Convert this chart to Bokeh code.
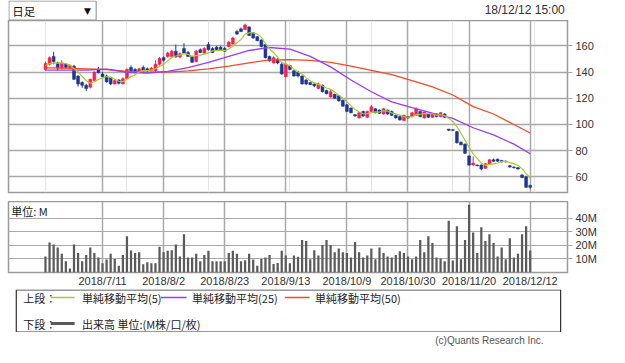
import pandas as pd
from bokeh.plotting import figure
from bokeh.layouts import column
from bokeh.models import Range1d, FixedTicker, Grid, Label, ColumnDataSource
from bokeh.core.properties import value
from bokeh.embed import file_html
from bokeh.resources import INLINE

# ---------------- data ----------------
holidays = ["2018-07-16", "2018-09-17", "2018-09-24", "2018-10-08", "2018-11-23"]
trade_dates = pd.bdate_range("2018-06-21", "2018-12-12", freq="C", holidays=holidays)
date_labels = [f"{d.year}/{d.month}/{d.day}" for d in trade_dates]

tick_labels = ["2018/7/11", "2018/8/2", "2018/8/23", "2018/9/13",
               "2018/10/9", "2018/10/30", "2018/11/20", "2018/12/12"]

opens = [142, 146, 152, 147, 143, 146, 143, 144.5, 137, 132,
         130, 128.5, 133.5, 142, 138.5, 137, 136, 131, 134, 131,
         135, 143.5, 142, 140, 143.5, 142.5, 141, 141, 146, 151,
         152, 152, 156, 151.5, 158, 155, 152, 148, 157, 154.5,
         161, 158, 159, 159, 158, 159.5, 161.5, 171, 173, 172.5,
         174.5, 170, 167, 164.5, 161, 152, 147, 150, 146, 136.5,
         145, 141, 140, 137, 134, 132, 131, 127.5, 130, 126,
         121, 123, 122, 118.5, 115, 112.5, 107.5, 105, 110, 105.5,
         110, 112, 111, 108, 111, 110, 107, 106, 103, 106,
         106, 107, 110, 105, 108, 105.5, 108, 106, 108, 96.5,
         96, 94.5, 86.5, 85, 76, 69, 69, 69, 66.5, 70,
         73, 73.5, 72.5, 72, 68.5, 67.5, 67, 61.5, 60, 53.5]
closes = [146.5, 151, 148, 143, 147, 143.5, 145, 134.5, 131, 130,
          127.5, 134.5, 140, 139.5, 136.5, 132.5, 131, 133.5, 131.5, 135,
          142, 141, 140, 142.5, 141, 141, 143, 146, 150.5, 149,
          154.5, 156, 151.5, 154, 154.5, 152, 147.5, 156, 155, 158,
          157, 155, 157, 157, 156, 163, 166, 169, 171, 176,
          168, 166, 164, 159.5, 151, 148.5, 151, 147, 138.5, 146,
          142, 137, 137, 131, 131, 130.5, 129.5, 131, 125, 123.5,
          125, 120, 118, 114, 110, 109, 106.5, 109, 106.5, 110,
          113.5, 109, 108.5, 112, 108, 107, 105, 103.5, 107, 105,
          109, 112, 106, 109.5, 105.5, 108, 106, 109, 105.5, 95.5,
          95.5, 86, 84.5, 78, 69, 70.5, 68.5, 66, 70, 73,
          72, 72, 71.5, 71.5, 67.5, 67, 66, 59.5, 52, 52]
highs = [148, 152, 155.5, 148, 149, 147, 146, 145.5, 137.5, 133,
         131, 135, 140.5, 144, 140, 138, 136.5, 134, 134.5, 136,
         143, 145, 143, 143, 145, 143.5, 144, 149, 151.5, 152,
         155.5, 157, 161, 155, 162, 156, 152.5, 157, 158, 159,
         163, 159, 160, 160, 159, 163.5, 167, 172, 174, 177,
         175, 170.5, 167.5, 165, 161.5, 152.5, 152, 150.5, 147.5, 146.5,
         145.5, 141.5, 141, 137.5, 134.5, 132.5, 131.5, 132, 130.5, 126.5,
         126.5, 123.5, 122.5, 119, 115.5, 113, 108, 109.5, 110.5, 110.5,
         115, 112.5, 111.5, 112.5, 111.5, 110.5, 107.5, 106.5, 107.5, 106.5,
         109.5, 113, 110.5, 110, 108.5, 108.5, 108.5, 109.5, 108.5, 96.5,
         96.5, 95, 87, 85.5, 76.5, 75.5, 69.5, 69.5, 70.5, 73.5,
         74, 74, 73, 72.5, 69, 68, 67.5, 62, 60.5, 54]
lows = [141, 145, 146, 141, 142, 142.5, 142, 134, 129, 128,
        125.5, 127.5, 133, 139, 136, 132, 130, 130.5, 130.5, 130.5,
        134.5, 140.5, 139, 139.5, 140.5, 140, 140.5, 140.5, 145, 148,
        151, 151.5, 151, 150.5, 154, 151.5, 147, 147.5, 154.5, 154,
        156.5, 154.5, 156.5, 156.5, 155.5, 159, 161, 168.5, 170.5, 172,
        167.5, 165.5, 163.5, 159, 150.5, 148, 146.5, 146, 138, 136,
        141.5, 136.5, 136, 130.5, 130, 130, 128.5, 127, 124.5, 123,
        120.5, 119.5, 117.5, 113.5, 109.5, 108.5, 106, 104.5, 106, 105,
        109.5, 108.5, 108, 107.5, 107.5, 106.5, 104.5, 103, 102.5, 104.5,
        105.5, 106.5, 105.5, 104.5, 105, 105, 105.5, 105.5, 105, 95,
        95, 85.5, 84, 77.5, 68.5, 68.5, 68, 65, 66, 69.5,
        71.5, 71.5, 71, 71, 67, 66.5, 65.5, 59, 51.5, 51]
prior_closes = [143.5, 145, 144, 146]

volume_m = [11.7, 22, 20.5, 18.3, 13.7, 8.3, 2.9, 20.5, 14.4, 8.3,
            12.9, 18.3, 14.4, 11, 6.8, 9.5, 13.7, 10, 4.9, 12.9,
            26.6, 16.1, 14.4, 14.9, 6.1, 7.6, 6.8, 6.8, 19, 14.9,
            15.9, 16.3, 20.5, 11.7, 28, 11, 11, 13.7, 8.3, 12.9,
            15.9, 8.3, 8.3, 8.3, 8.3, 14.4, 15.9, 13.7, 8.3, 9,
            13.7, 9.5, 4.9, 10, 11, 12.9, 6.3, 7, 15.9, 12.4,
            6.8, 12.4, 11.5, 23.9, 23.2, 9.8, 16.3, 12.4, 20.2, 23.9,
            20.2, 14.9, 17.6, 14.9, 14.4, 11, 22.4, 14.9, 11, 12.4,
            17.6, 9.8, 18.3, 14.4, 11.7, 11, 12.9, 15.6, 14.4, 11.7,
            9.8, 11.7, 23.9, 14.9, 26.6, 21.7, 11, 10.2, 8.3, 38,
            8.8, 34, 9.8, 23.9, 49.8, 29.3, 14.4, 33.2, 23.2, 28,
            21.7, 11.7, 18.3, 9.8, 25.1, 11, 13.7, 28, 34, 16.1]

ma_idx = [0, 5, 10, 15, 20, 25, 30, 35, 40, 45, 50, 55, 60,
          65, 70, 75, 80, 85, 90, 95, 100, 105, 110, 115, 119]
ma25 = [141.5, 141.5, 141.5, 142.3, 139.8, 139.3, 140.5, 143.5, 147.5, 152, 156.5, 158.8, 157.5,
        152, 144, 134, 125, 117.3, 112.8, 108.6, 104.6, 97.5, 92, 85, 77.6]
ma50 = [143.3, 143, 142.5, 142, 140.5, 140, 140, 141, 142.5, 144.5, 147, 149.3, 149.6,
        149, 147.5, 144.5, 141.3, 138, 133.5, 128.7, 122.5, 113.6, 108, 100, 93.5]

# ---------------- derived ----------------
n = len(closes)
xs = list(range(n))
tick_idx = [date_labels.index(t) for t in tick_labels]
ext = prior_closes + closes
ma5 = [sum(ext[i:i + 5]) / 5 for i in range(n)]

UP = "#f8204c"
DOWN = "#1c3690"
C5 = "#a8cc28"
C25 = "#9a3cf6"
C50 = "#f84a26"
GRID = "#a9a9a9"
JP = value("Noto Sans CJK JP")
EN = value("Liberation Sans")

src = ColumnDataSource(dict(
    x=xs, high=highs, low=lows,
    top=[max(o, c) for o, c in zip(opens, closes)],
    bottom=[min(o, c) for o, c in zip(opens, closes)],
    color=[UP if c > o else DOWN for o, c in zip(opens, closes)],
    vol=volume_m,
))

W = 609
XR = (-9.08, 128.16)


def blank(h):
    f = figure(width=W, height=h, x_range=Range1d(0, W), y_range=Range1d(h, 0),
               output_backend="svg", toolbar_location=None,
               x_axis_location=None, y_axis_location=None,
               min_border=0, outline_line_color=None)
    f.xgrid.visible = False
    f.ygrid.visible = False
    return f


# ---------------- header ----------------
HH = 20
hdr = blank(HH)
hdr.quad(left=[0.5], right=[95.5], top=[0.5], bottom=[HH - 0.5],
         fill_color="white", line_color="#8a8a8a", line_width=1)
hdr.text(x=[4], y=[HH / 2], text=["日足"], text_font=JP, text_font_size="11.5px",
         text_baseline="middle", text_color="#111")
hdr.text(x=[86], y=[HH / 2], text=["▼"], text_font=value("DejaVu Sans"), text_font_size="9px",
         text_baseline="middle", text_align="center", text_color="#111")
hdr.text(x=[606], y=[HH / 2 - 1], text=["18/12/12 15:00"], text_font=EN, text_font_size="12px",
         text_baseline="middle", text_align="right", text_color="#333")

# ---------------- price panel ----------------
p = figure(width=W, height=181, x_range=Range1d(*XR), y_range=Range1d(48.06, 179.4),
           output_backend="svg", toolbar_location=None,
           x_axis_location=None, y_axis_location="right",
           min_border_left=8, min_border_right=42, min_border_top=0, min_border_bottom=9)
p.outline_line_color = "#9a9a9a"
p.outline_line_width = 1.5
p.yaxis.ticker = FixedTicker(ticks=[60, 80, 100, 120, 140, 160])
p.yaxis.axis_line_color = None
p.yaxis.major_tick_in = 0
p.yaxis.major_tick_out = 5
p.yaxis.major_tick_line_color = GRID
p.yaxis.minor_tick_line_color = None
p.yaxis.major_label_standoff = 3
p.yaxis.major_label_text_font = "Liberation Sans"
p.yaxis.major_label_text_font_size = "11px"
p.yaxis.major_label_text_color = "#333"
p.ygrid.grid_line_color = GRID
p.ygrid.grid_line_width = 1.5
p.add_layout(Grid(dimension=0, ticker=FixedTicker(ticks=tick_idx),
                  grid_line_color=GRID, grid_line_width=1.5))

p.segment(x0="x", y0="high", x1="x", y1="low", color="color", line_width=1, source=src)
p.vbar(x="x", width=0.72, top="top", bottom="bottom", fill_color="color",
       line_color="color", line_width=0.5, source=src)
p.line(ma_idx, ma50, line_color=C50, line_width=1.3)
p.line(ma_idx, ma25, line_color=C25, line_width=1.3)
p.line(xs, ma5, line_color=C5, line_width=1.2)

# ---------------- volume panel ----------------
v = figure(width=W, height=88, x_range=Range1d(*XR), y_range=Range1d(0, 52.14),
           output_backend="svg", toolbar_location=None,
           x_axis_location="below", y_axis_location="right",
           min_border_left=8, min_border_right=42, min_border_top=0, min_border_bottom=15)
v.outline_line_color = "#9a9a9a"
v.outline_line_width = 1.5
v.yaxis.ticker = FixedTicker(ticks=[10, 20, 30, 40])
v.yaxis.major_label_overrides = {10: "10M", 20: "20M", 30: "30M", 40: "40M"}
v.yaxis.axis_line_color = None
v.yaxis.major_tick_in = 0
v.yaxis.major_tick_out = 5
v.yaxis.major_tick_line_color = GRID
v.yaxis.minor_tick_line_color = None
v.yaxis.major_label_standoff = 3
v.yaxis.major_label_text_font = "Liberation Sans"
v.yaxis.major_label_text_font_size = "11px"
v.yaxis.major_label_text_color = "#333"
v.xaxis.ticker = FixedTicker(ticks=tick_idx)
v.xaxis.major_label_overrides = {i: date_labels[i] for i in tick_idx}
v.xaxis.axis_line_color = None
v.xaxis.major_tick_in = 0
v.xaxis.major_tick_out = 0
v.xaxis.minor_tick_line_color = None
v.xaxis.major_label_standoff = 2
v.xaxis.major_label_text_font = "Liberation Sans"
v.xaxis.major_label_text_font_size = "11px"
v.xaxis.major_label_text_color = "#333"
v.xgrid.grid_line_color = GRID
v.xgrid.grid_line_width = 1.5
v.ygrid.grid_line_color = GRID
v.ygrid.grid_line_width = 1.2
v.vbar(x="x", width=0.55, top="vol", bottom=0, fill_color="#5a5a5a",
       line_color=None, source=src)
v.add_layout(Label(x=-8.4, y=51.2, text="単位: M", text_font="Noto Sans CJK JP",
                   text_font_size="11px", text_baseline="top", text_color="#222"))

# ---------------- legend ----------------
LH = 43
lg = blank(LH)
lg.quad(left=[8.5], right=[601.5], top=[0.5], bottom=[LH - 0.5], fill_color=None,
        line_color="#333", line_width=1.2)
row1, row2 = 8, 34
lg.text(x=[16], y=[row1], text=["上段："], text_font=JP, text_font_size="11px",
        text_baseline="middle", text_color="#222")
lg.text(x=[16], y=[row2], text=["下段："], text_font=JP, text_font_size="11px",
        text_baseline="middle", text_color="#222")
lg.segment(x0=[46], y0=[row1], x1=[72], y1=[row1], line_color=C5, line_width=1.5)
lg.segment(x0=[166], y0=[row1], x1=[194], y1=[row1], line_color=C25, line_width=1.5)
lg.segment(x0=[301], y0=[row1], x1=[328], y1=[row1], line_color=C50, line_width=1.5)
lg.segment(x0=[46], y0=[row2], x1=[72], y1=[row2], line_color="#5a5a5a", line_width=3)
lg.text(x=[80, 200, 334], y=[row1] * 3,
        text=["単純移動平均(5)", "単純移動平均(25)", "単純移動平均(50)"],
        text_font=JP, text_font_size="11px", text_baseline="middle", text_color="#222")
lg.text(x=[80], y=[row2], text=["出来高 単位:(M株/口/枚)"], text_font=JP,
        text_font_size="11px", text_baseline="middle", text_color="#222")

# ---------------- footer ----------------
FH = 15
ft = blank(FH)
ft.text(x=[583], y=[FH / 2], text=["(c)Quants Research Inc."], text_font=EN,
        text_font_size="10px", text_align="right", text_baseline="middle",
        text_color="#555")

layout = column(hdr, p, v, lg, ft, spacing=0)
open("out.html", "w").write(file_html(layout, INLINE))
